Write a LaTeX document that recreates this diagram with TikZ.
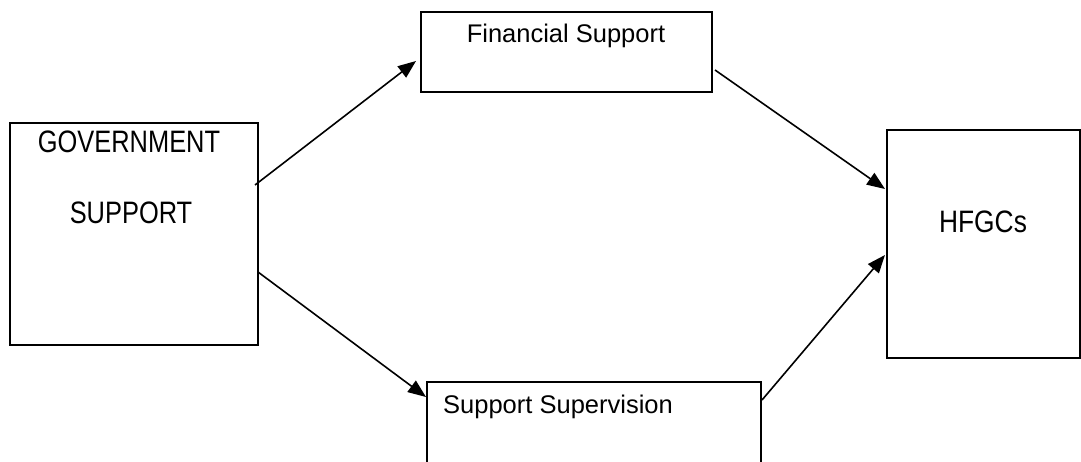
\documentclass[tikz,border=0pt]{standalone}
\usepackage{fontspec}
\usepackage{graphicx}
\setmainfont{Liberation Sans}
\usetikzlibrary{arrows.meta}
\begin{document}
\begin{tikzpicture}[x=1pt,y=-1pt,
  box/.style={draw,line width=2pt,inner sep=0pt,rectangle},
  lbl/.style={font=\fontsize{25.5}{30}\selectfont,inner sep=0pt,anchor=base},
  biglbl/.style={font=\fontsize{31}{36}\selectfont,inner sep=0pt,anchor=base},
  conn/.style={line width=1.6pt,-{Triangle[length=18pt,width=14pt]}}]
\useasboundingbox (0,0) rectangle (1081,462);
\clip (0,0) rectangle (1081,462);
% boxes
\node[box,minimum width=248pt,minimum height=222pt] (gov) at (134,234) {};
\node[box,minimum width=291pt,minimum height=80pt] (fin) at (566.5,52) {};
\node[box,minimum width=334pt,minimum height=110pt] (sup) at (594,437) {};
\node[box,minimum width=193pt,minimum height=228pt] (hfgc) at (983.5,244) {};
% labels
\node[biglbl] (govt1) at (129,153) {\scalebox{0.82}[1]{GOVERNMENT}};
\node[biglbl] (govt2) at (131,224) {\scalebox{0.82}[1]{SUPPORT}};
\node[lbl] (fint) at (566,43) {Financial Support};
\node[lbl,anchor=base west] (supt) at (443,413) {Support Supervision};
\node[biglbl] (hfgct) at (983,233) {\scalebox{0.85}[1]{HFGCs}};
% connector ends
\coordinate (g1) at (255,185);
\coordinate (f1) at (416,61);
\coordinate (f2) at (715,70);
\coordinate (h1) at (885,189);
\coordinate (g2) at (258,272);
\coordinate (s1) at (426,397);
\coordinate (s2) at (762,400);
\coordinate (h2) at (885,255);
\draw[conn] (g1) -- (f1);
\draw[conn] (f2) -- (h1);
\draw[conn] (g2) -- (s1);
\draw[conn] (s2) -- (h2);
\end{tikzpicture}
\end{document}
